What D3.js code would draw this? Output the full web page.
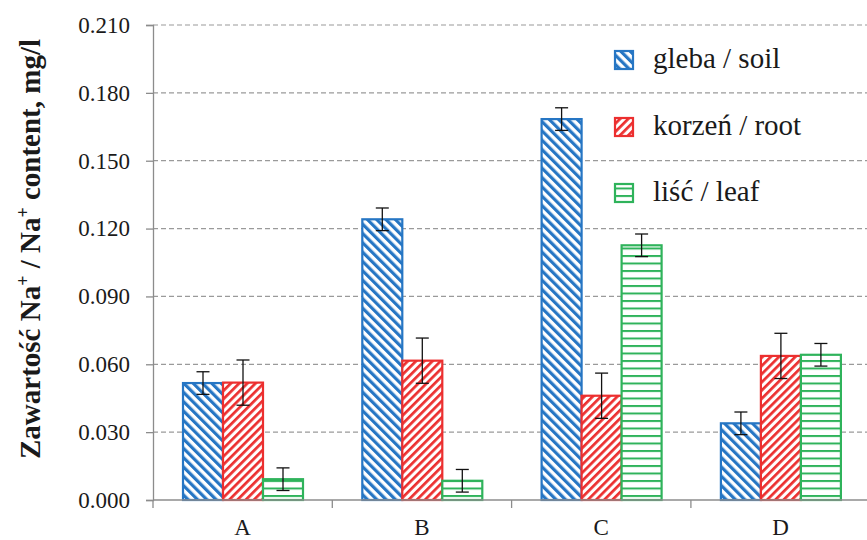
<!DOCTYPE html>
<html>
<head>
<meta charset="utf-8">
<script src="https://cdn.jsdelivr.net/npm/d3@7/dist/d3.min.js"></script>
<style>
  html, body { margin: 0; padding: 0; background: #fff; }
  svg { display: block; }
  svg text { font-family: "Liberation Serif", "Tinos", "DejaVu Serif", "Times New Roman", serif; }
</style>
</head>
<body>
<svg id="chart" width="867" height="540"></svg>
<script>
// Na+ content per sample site, three plant/soil compartments
const categories = ["A", "B", "C", "D"];
const seriesNames = ["gleba / soil", "korzeń / root", "liść / leaf"];
const soil = [0.0517, 0.1241, 0.1684, 0.0339];
const root = [0.0519, 0.0616, 0.0461, 0.0637];
const leaf = [0.0092, 0.0085, 0.1126, 0.0642];
const soilErr = [0.005, 0.005, 0.005, 0.005];
const rootErr = [0.010, 0.010, 0.010, 0.010];
const leafErr = [0.005, 0.005, 0.005, 0.005];
const yTicks = [0, 0.03, 0.06, 0.09, 0.12, 0.15, 0.18, 0.21];

const seriesKeys = ["soil", "root", "leaf"];
const values = { soil, root, leaf };
const errors = { soil: soilErr, root: rootErr, leaf: leafErr };
const colors = { soil: "#2676c4", root: "#ec2f2f", leaf: "#2fb35b" };

const svg = d3.select("#chart");

const plot = { left: 153, right: 870.2, top: 25, bottom: 500 };

const x = d3.scaleBand().domain(categories).range([plot.left, plot.right]).padding(0);
const xInner = d3.scaleBand().domain(seriesKeys).range([30, 150]).padding(0);
const y = d3.scaleLinear().domain([0, 0.21]).range([plot.bottom, plot.top]);

// hatch patterns
const defs = svg.append("defs");
function stripePattern(id, color, period, thick, angle) {
  const p = defs.append("pattern")
    .attr("id", id)
    .attr("patternUnits", "userSpaceOnUse")
    .attr("width", period).attr("height", period)
    .attr("patternTransform", `rotate(${angle})`);
  p.append("rect").attr("width", period).attr("height", period).attr("fill", "#fff");
  p.append("rect").attr("x", 0).attr("y", 0).attr("width", thick).attr("height", period).attr("fill", color);
}
stripePattern("hatch-soil", colors.soil, 6.6, 3.2, -45);
stripePattern("hatch-root", colors.root, 5.8, 2.7, 45);
const hp = defs.append("pattern")
  .attr("id", "hatch-leaf")
  .attr("patternUnits", "userSpaceOnUse")
  .attr("width", 10).attr("height", 7.5);
hp.append("rect").attr("width", 10).attr("height", 7.5).attr("fill", "#fff");
hp.append("rect").attr("x", 0).attr("y", 0).attr("width", 10).attr("height", 2).attr("fill", colors.leaf);

// gridlines
svg.append("g")
  .selectAll("line")
  .data(yTicks.filter(d => d > 0))
  .join("line")
  .attr("x1", plot.left).attr("x2", 867)
  .attr("y1", d => y(d)).attr("y2", d => y(d))
  .attr("stroke", "#9a9a9a")
  .attr("stroke-width", 1.2)
  .attr("stroke-dasharray", "5,3");

// y axis
const yAxis = d3.axisLeft(y).tickValues(yTicks).tickFormat(d3.format(".3f")).tickSizeOuter(0).tickSize(7).tickPadding(16);
const yg = svg.append("g").attr("transform", `translate(${plot.left},0)`).call(yAxis);
yg.attr("font-family", null);
yg.select(".domain").attr("stroke", "#8c8c8c").attr("stroke-width", 1.3);
yg.selectAll(".tick line").attr("stroke", "#8c8c8c").attr("stroke-width", 1.3);
yg.selectAll(".tick text")
  .attr("font-size", 23).attr("fill", "#1a1a1a");

// bars
const groups = svg.append("g").selectAll("g")
  .data(categories)
  .join("g")
  .attr("transform", c => `translate(${x(c)},0)`);

seriesKeys.forEach(k => {
  groups.append("rect")
    .attr("x", xInner(k))
    .attr("width", xInner.bandwidth())
    .attr("y", (c, i) => y(values[k][i]))
    .attr("height", (c, i) => y(0) - y(values[k][i]))
    .attr("fill", `url(#hatch-${k})`)
    .attr("stroke", colors[k])
    .attr("stroke-width", 2.2);
});

// x axis
svg.append("line")
  .attr("x1", plot.left).attr("x2", plot.right)
  .attr("y1", y(0)).attr("y2", y(0))
  .attr("stroke", "#8c8c8c").attr("stroke-width", 1.3);
const boundaries = categories.map(c => x(c)).concat([x(categories[categories.length - 1]) + x.bandwidth()]);
svg.append("g").selectAll("line")
  .data(boundaries)
  .join("line")
  .attr("x1", d => d).attr("x2", d => d)
  .attr("y1", y(0)).attr("y2", y(0) + 8)
  .attr("stroke", "#8c8c8c").attr("stroke-width", 1.3);
svg.append("g").selectAll("text")
  .data(categories)
  .join("text")
  .attr("x", c => x(c) + x.bandwidth() / 2)
  .attr("y", 535)
  .attr("text-anchor", "middle")
  .attr("font-size", 23).attr("fill", "#1a1a1a")
  .text(c => c);

// error bars
seriesKeys.forEach(k => {
  const eg = groups.append("g");
  const cx = xInner(k) + xInner.bandwidth() / 2;
  eg.append("line")
    .attr("x1", cx).attr("x2", cx)
    .attr("y1", (c, i) => y(values[k][i] + errors[k][i]))
    .attr("y2", (c, i) => y(values[k][i] - errors[k][i]))
    .attr("stroke", "#111").attr("stroke-width", 1.3);
  [1, -1].forEach(s => {
    eg.append("line")
      .attr("x1", cx - 6.5).attr("x2", cx + 6.5)
      .attr("y1", (c, i) => y(values[k][i] + s * errors[k][i]))
      .attr("y2", (c, i) => y(values[k][i] + s * errors[k][i]))
      .attr("stroke", "#111").attr("stroke-width", 1.3);
  });
});

// legend
const legend = svg.append("g").attr("transform", "translate(614,0)");
const legendY = [51, 118, 184];
seriesKeys.forEach((k, i) => {
  legend.append("rect")
    .attr("x", 1).attr("y", legendY[i])
    .attr("width", 18).attr("height", 18)
    .attr("fill", `url(#hatch-${k})`)
    .attr("stroke", colors[k]).attr("stroke-width", 2.2);
  legend.append("text")
    .attr("x", 39).attr("y", legendY[i] + 17)
    .attr("font-size", 29).attr("fill", "#1a1a1a")
    .text(seriesNames[i]);
});

// y axis title
const title = svg.append("text")
  .attr("transform", "translate(40,249) rotate(-90)")
  .attr("text-anchor", "middle")
  .attr("font-size", 29).attr("font-weight", "bold").attr("fill", "#1a1a1a");
title.append("tspan").text("Zawartość Na");
title.append("tspan").attr("dy", -11).attr("font-size", 18).text("+");
title.append("tspan").attr("dy", 11).text(" / Na");
title.append("tspan").attr("dy", -11).attr("font-size", 18).text("+");
title.append("tspan").attr("dy", 11).text(" content, mg/l");
</script>
</body>
</html>
